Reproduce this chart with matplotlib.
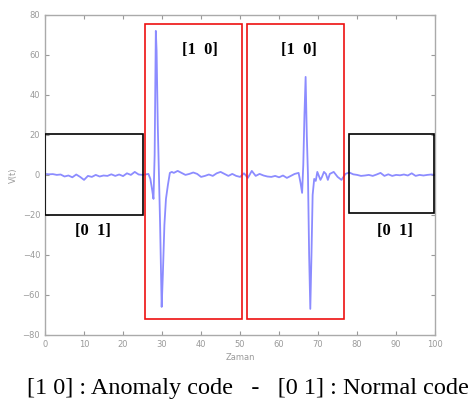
import matplotlib
matplotlib.use("Agg")
import matplotlib.pyplot as plt
from matplotlib.patches import Rectangle

# signal samples (time, value)
t = [0, 1, 2, 3, 4, 5, 6, 7, 8, 9, 10, 11, 12, 13, 14, 15, 16, 17, 18, 19, 20,
     21, 22, 23, 24, 25, 26, 26.5, 27, 27.5, 27.8, 28.1, 28.4, 28.6, 28.9, 29.2,
     29.5, 29.9, 30.2, 30.6, 31.0, 31.5, 32.0, 32.5, 33, 34, 35, 36, 37, 38, 39,
     40, 41, 42, 43, 44, 45, 46, 47, 48, 49, 50, 51, 52, 53, 54, 55, 56, 57, 58,
     59, 60, 61, 62, 63, 64, 65, 65.5, 65.9, 66.2, 66.5, 66.8, 67.1, 67.4, 67.7,
     68.0, 68.3, 68.6, 69.0, 69.4, 69.8, 70.2, 70.6, 71, 71.5, 72, 72.5, 73, 74,
     75, 76, 77, 78, 79, 80, 81, 82, 83, 84, 85, 86, 87, 88, 89, 90, 91, 92, 93,
     94, 95, 96, 97, 98, 99, 100]
v = [0.5, 0.3, 0.4, 0.0, 0.2, -0.8, -0.3, -1.2, 0.2, -1.0, -2.5, -0.5, -1.0, 0.0,
     -0.8, -0.3, -0.5, 0.3, -0.5, 0.2, -0.6, 0.8, 0.0, 1.5, 0.2, 0.0, 0.3, 0.5,
     -2, -8, -12, 10, 72, 62, 25, 0, -25, -66, -50, -25, -12, -5, 1.0, 1.5, 1.0,
     2.0, 1.0, 0.0, 0.5, 1.2, 0.5, -1.0, -0.5, 0.2, -0.5, 0.8, 1.5, 0.5, -0.5,
     0.5, -0.5, -1.0, 0.8, -1.5, 2.0, -0.5, 0.5, -0.3, -0.8, -1.0, -0.5, -1.2,
     -0.3, -1.5, -0.5, 0.5, 1.0, -4, -9, 5, 30, 49, 20, 0, -40, -67, -40, -10,
     -2, -3, 1.5, -0.5, -2.5, -1, 1.5, 0.5, -2.5, 0.5, 1.5, -1, -2.5, 0.5, 1.2,
     0.3, 0.0, -0.5, -0.3, 0.0, -0.5, 0.2, 1.0, -0.5, 0.3, -0.5, 0.0, -0.2, 0.2,
     -0.3, 0.8, -0.5, 0.0, -0.3, 0.0, 0.2, 0.0]

# code boxes: (x0, x1, y0, y1)
normal_boxes = [(0, 25, -20, 20.5), (78, 99.8, -19, 20.5)]
anomaly_boxes = [(25.5, 50.4, -72, 75.5), (51.7, 76.7, -72, 75.5)]
box_labels = ['[0  1]', '[0  1]', '[1  0]', '[1  0]']
label_pos = [(12.3, -28), (89.7, -28), (39.7, 62.5), (65, 62.5)]

fig = plt.figure(figsize=(4.74, 4.03), dpi=100)
ax = fig.add_axes([0.095, 0.169, 0.823, 0.794])

ax.plot(t, v, color='#8c8cff', linewidth=1.3)

for x0, x1, y0, y1 in normal_boxes:
    ax.add_patch(Rectangle((x0, y0), x1 - x0, y1 - y0, fill=False,
                           edgecolor='black', linewidth=1.2, zorder=3))
for x0, x1, y0, y1 in anomaly_boxes:
    ax.add_patch(Rectangle((x0, y0), x1 - x0, y1 - y0, fill=False,
                           edgecolor='#ee1111', linewidth=1.2, zorder=3))
for lab, (lx, ly) in zip(box_labels, label_pos):
    ax.text(lx, ly, lab, ha='center', va='center', fontsize=12,
            fontweight='bold', family='Liberation Serif')

ax.set_xlim(0, 100)
ax.set_ylim(-80, 80)
ax.set_xticks(range(0, 101, 10))
ax.set_yticks(range(-80, 81, 20))
ax.tick_params(direction='in', top=True, right=True, length=3, width=0.8,
               labelsize=6, colors='#999999', labelcolor='#9a9a9a')
for s in ax.spines.values():
    s.set_color('#aaaaaa')
    s.set_linewidth(1.0)
ax.set_xlabel('Zaman', fontsize=6, color='#9a9a9a', labelpad=3)
ax.set_ylabel('V(t)', fontsize=6, color='#9a9a9a', labelpad=3)

fig.text(0.057, 0.037, '[1 0] : Anomaly code   -   [0 1] : Normal code',
         ha='left', va='center', fontsize=17.5, family='Liberation Serif')

fig.savefig('out.png', dpi=100)
